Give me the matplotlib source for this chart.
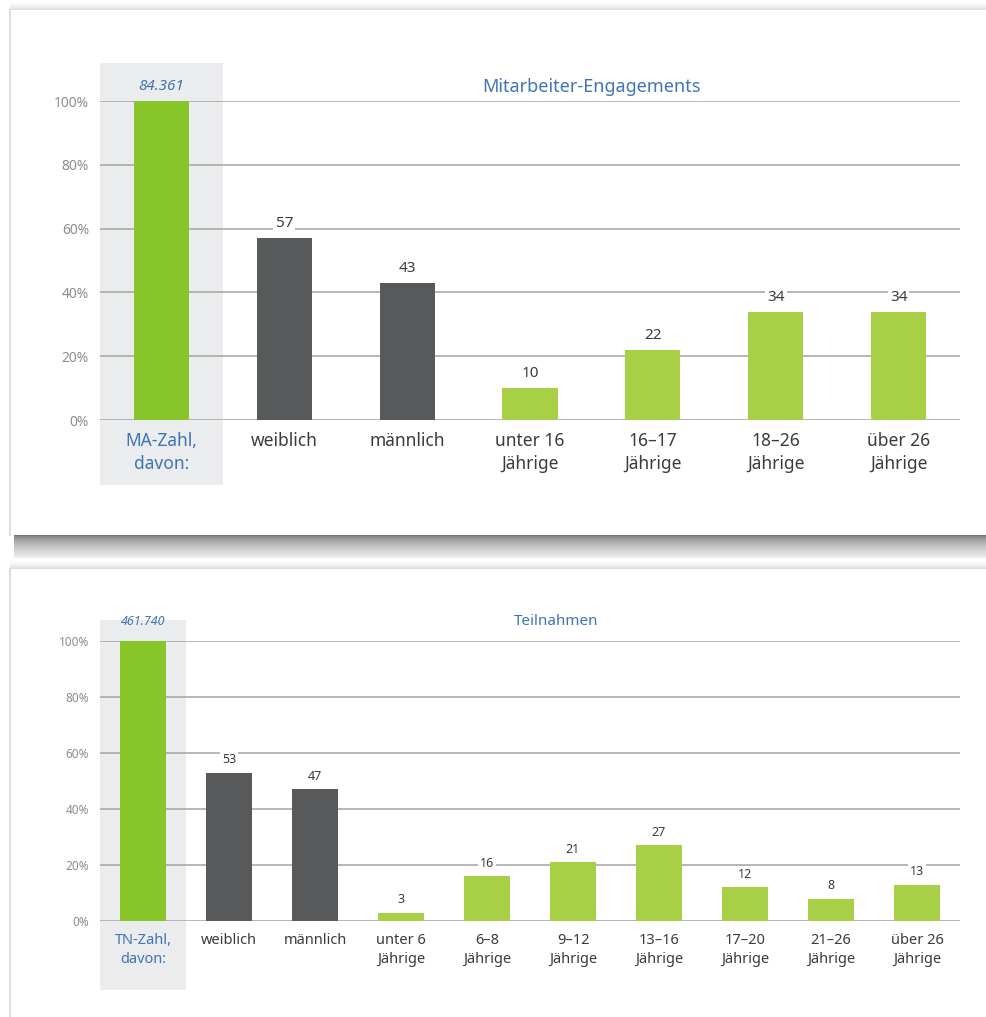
import matplotlib.pyplot as plt
import numpy as np
from matplotlib.patches import Rectangle

plt.rcParams['font.family'] = ['Noto Sans', 'DejaVu Sans']

W, H = 986, 1017

# Mitarbeiter-Engagements (shares in %)
ma_labels = ['MA-Zahl,\ndavon:', 'weiblich', 'männlich', 'unter 16\nJährige',
             '16–17\nJährige', '18–26\nJährige', 'über 26\nJährige']
ma_values = [100, 57, 43, 10, 22, 34, 34]
ma_total = '84.361'

# Teilnahmen (shares in %)
tn_labels = ['TN-Zahl,\ndavon:', 'weiblich', 'männlich', 'unter 6\nJährige',
             '6–8\nJährige', '9–12\nJährige', '13–16\nJährige', '17–20\nJährige',
             '21–26\nJährige', 'über 26\nJährige']
tn_values = [100, 53, 47, 3, 16, 21, 27, 12, 8, 13]
tn_total = '461.740'

GREEN_TOTAL = '#88c528'
GREEN = '#a8d046'
GREY = '#58595b'
BLUE = '#3f74b5'
TEXT = '#3b3b3b'
TICK = '#8c8c8c'
GRID = '#a3a3a3'

fig = plt.figure(figsize=(W / 100, H / 100), dpi=100)
fig.patch.set_facecolor('white')

# page background with the two cards and their shadows (pixel coordinates)
bg = fig.add_axes([0, 0, 1, 1], zorder=-10)
bg.set_xlim(0, W)
bg.set_ylim(H, 0)
bg.axis('off')


def shade(y_top, y_bot, v_top, v_bot, x0=10, x1=W, power=1.0):
    t = np.linspace(0, 1, 64) ** power
    col = (v_top + (v_bot - v_top) * t)[:, None]
    bg.imshow(col, cmap='gray', vmin=0, vmax=1, aspect='auto',
              extent=(x0, x1, y_bot, y_top), interpolation='bilinear')


shade(0, 10, 1.0, 0.86, power=2.0)
shade(535, 564, 0.42, 1.0, x0=14, power=0.55)
shade(558, 569, 1.0, 0.86, power=2.0)
bg.add_patch(Rectangle((10, 10), W, 525, facecolor='white', edgecolor='none'))
bg.add_patch(Rectangle((10, 569), W, 460, facecolor='white', edgecolor='none'))
bg.plot([10, 10], [10, 535], color='#d8d8d8', lw=1.2)
bg.plot([10, 10], [569, H], color='#d8d8d8', lw=1.2)
bg.set_xlim(0, W)
bg.set_ylim(H, 0)


def chart(y100, y0, labels, values, total, title, title_x, title_y,
          width, tick_fs, cat_fs, val_fs, title_fs, cat_pad, band_top, band_bot):
    ax = fig.add_axes([100 / W, 1 - y0 / H, 860 / W, (y0 - y100) / H])
    ax.set_facecolor('none')
    n = len(values)
    x = np.arange(n)
    colors = [GREEN_TOTAL] + [GREY, GREY] + [GREEN] * (n - 3)
    ax.bar(x, values, width=width, color=colors, zorder=3)

    ax.set_xlim(-0.5, n - 0.5)
    ax.set_ylim(0, 100)
    ax.set_yticks(range(0, 101, 20))
    ax.set_yticklabels([f'{v}%' for v in range(0, 101, 20)])
    ax.tick_params(axis='y', length=0, labelsize=tick_fs, labelcolor=TICK, pad=8)
    ax.set_xticks(x)
    ax.set_xticklabels(labels, fontsize=cat_fs, color=TEXT, linespacing=1.35)
    ax.get_xticklabels()[0].set_color(BLUE)
    ax.tick_params(axis='x', length=0, pad=cat_pad)
    ax.grid(axis='y', color=GRID, lw=1.1, zorder=1)
    for s in ax.spines.values():
        s.set_visible(False)

    # light band behind the total column
    ax.add_patch(Rectangle((-0.5, band_bot), 1.0, band_top - band_bot,
                           facecolor='#ebeced', edgecolor='none',
                           clip_on=False, zorder=0))

    for xi, v in zip(x[1:], values[1:]):
        ax.text(xi, v + 2.2, f'{v}', ha='center', va='bottom',
                fontsize=val_fs, color=TEXT, zorder=4,
                bbox=dict(facecolor='white', edgecolor='none', pad=1.5))
    ax.text(0, title_y, total, ha='center', va='center', fontsize=val_fs,
            color=BLUE, style='italic', clip_on=False)
    ax.text(title_x, title_y, title, ha='center', va='center',
            fontsize=title_fs, color=BLUE, clip_on=False)
    return ax


chart(101, 420, ma_labels, ma_values, ma_total, 'Mitarbeiter-Engagements',
      3.5, 104.5, 0.45, 10, 12.5, 11, 13, 9, 112, -20.5)
chart(641, 921, tn_labels, tn_values, tn_total, 'Teilnahmen',
      4.8, 106.8, 0.53, 8.5, 10.5, 9, 11, 9, 107.5, -24.5)

fig.savefig('out.png', dpi=100)
